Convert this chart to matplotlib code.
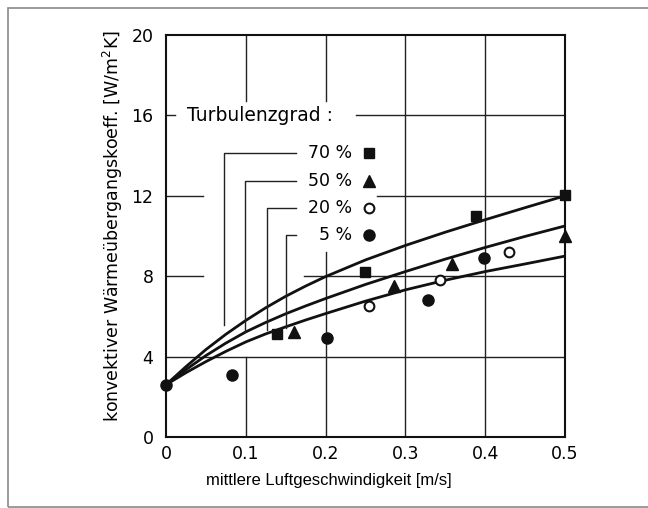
import numpy as np
import matplotlib.pyplot as plt
from matplotlib.patches import Rectangle

v_70 = [0.139, 0.249, 0.389, 0.5]
h_70 = [5.1, 8.2, 11.0, 12.05]
v_50 = [0.16, 0.286, 0.359, 0.5]
h_50 = [5.2, 7.5, 8.6, 10.0]
v_20 = [0.254, 0.343, 0.43]
h_20 = [6.5, 7.8, 9.2]
v_5 = [0.0, 0.083, 0.202, 0.328, 0.399]
h_5 = [2.6, 3.1, 4.95, 6.8, 8.9]

# Ausgleichskurven
v_kurve = [0.0, 0.025, 0.05, 0.075, 0.1, 0.125, 0.15, 0.175, 0.2,
           0.25, 0.3, 0.35, 0.4, 0.45, 0.5]
h_oben = [2.6, 3.5, 4.35, 5.11, 5.8, 6.43, 7.0, 7.51, 7.98,
          8.81, 9.53, 10.19, 10.81, 11.41, 12.0]
h_mitte = [2.6, 3.35, 4.05, 4.67, 5.23, 5.7, 6.13, 6.52, 6.89,
           7.59, 8.23, 8.85, 9.43, 9.98, 10.5]
h_unten = [2.6, 3.2, 3.75, 4.26, 4.73, 5.13, 5.48, 5.82, 6.14,
           6.76, 7.32, 7.8, 8.23, 8.61, 9.0]

labels = ["70 %", "50 %", "20 %", "5 %"]
x_ticks = [0, 0.1, 0.2, 0.3, 0.4, 0.5]
x_ticklabels = ["0", "0.1", "0.2", "0.3", "0.4", "0.5"]
y_ticks = [0, 4, 8, 12, 16, 20]

# -----------------------------------------------------------------------------

fig = plt.figure(figsize=(6.48, 5.08), dpi=100)
fig.patches.append(Rectangle((8/648, 1/508), 1.0, 1 - 8/508 - 1/508,
                             transform=fig.transFigure, fill=False,
                             edgecolor="#8a8a8a", lw=1.2))
ax = fig.add_axes([166/648, 1 - 437/508, 399/648, 402/508])
ax.set_xlim(0, 0.5)
ax.set_ylim(0, 20)

gc = "#222222"
lw_g = 1.0
# Gitter, teilweise unterbrochen
ax.plot([0.1, 0.1], [0, 4], color=gc, lw=lw_g)
ax.plot([0.1, 0.1], [16.7, 20], color=gc, lw=lw_g)
ax.plot([0.2, 0.2], [0, 9.2], color=gc, lw=lw_g)
ax.plot([0.2, 0.2], [16.7, 20], color=gc, lw=lw_g)
ax.plot([0.3, 0.3], [0, 20], color=gc, lw=lw_g)
ax.plot([0.4, 0.4], [0, 20], color=gc, lw=lw_g)
ax.plot([0, 0.5], [4, 4], color=gc, lw=lw_g)
ax.plot([0, 0.046], [8, 8], color=gc, lw=lw_g)
ax.plot([0.173, 0.5], [8, 8], color=gc, lw=lw_g)
ax.plot([0, 0.046], [12, 12], color=gc, lw=lw_g)
ax.plot([0.264, 0.5], [12, 12], color=gc, lw=lw_g)
ax.plot([0, 0.011], [16, 16], color=gc, lw=lw_g)
ax.plot([0.238, 0.5], [16, 16], color=gc, lw=lw_g)

# Kurven
for h in (h_oben, h_mitte, h_unten):
    ax.plot(v_kurve, h, color="#111111", lw=2.0, solid_capstyle="round",
            solid_joinstyle="round")

# Messpunkte
ax.plot(v_70, h_70, "s", color="#111111", ms=7, clip_on=False)
ax.plot(v_50, h_50, "^", color="#111111", ms=8.5, clip_on=False)
ax.plot(v_20, h_20, "o", mfc="white", mec="#111111", mew=1.5, ms=7, clip_on=False)
ax.plot(v_5, h_5, "o", color="#111111", ms=8, clip_on=False)

# Legende mit Hinweislinien
ax.text(0.026, 16.0, "Turbulenzgrad :", fontsize=13.5, va="center", ha="left")
lab_y = [14.15, 12.75, 11.4, 10.05]
lead_x = [0.073, 0.099, 0.126, 0.151]
lead_end = [5.55, 5.2, 5.3, 5.4]
markers = [dict(marker="s", color="#111111", ms=7),
           dict(marker="^", color="#111111", ms=8.5),
           dict(marker="o", mfc="white", mec="#111111", mew=1.5, ms=7),
           dict(marker="o", color="#111111", ms=8)]
for lab, y, lx, le, m in zip(labels, lab_y, lead_x, lead_end, markers):
    ax.plot([lx, lx, 0.163], [le, y, y], color=gc, lw=lw_g)
    ax.text(0.233, y, lab, fontsize=12.5, ha="right", va="center")
    ax.plot([0.254], [y], linestyle="none", **m)

for s in ax.spines.values():
    s.set_linewidth(1.5)
    s.set_color("#111111")
ax.set_xticks(x_ticks)
ax.set_xticklabels(x_ticklabels)
ax.set_yticks(y_ticks)
ax.tick_params(length=0, labelsize=12.5, pad=6)
ax.tick_params(axis="y", pad=9)

fig.text(329/648, 1 - 480/508, "mittlere Luftgeschwindigkeit [m/s]",
         family="Liberation Sans", fontsize=12, ha="center", va="center")
fig.text(113/648, 1 - 226/508, "konvektiver Wärmeübergangskoeff. [W/m$^2$K]",
         fontsize=12.5, fontweight="medium", rotation=90,
         ha="center", va="center")

plt.savefig("out.png", dpi=100)
